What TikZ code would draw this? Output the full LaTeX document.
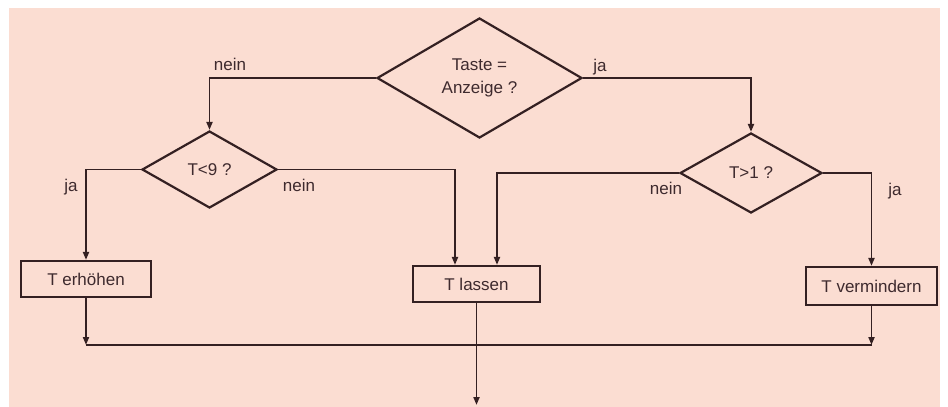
\documentclass[tikz,border=0pt]{standalone}
\usepackage{fontspec}
\setmainfont{Liberation Sans}
\usetikzlibrary{shapes.geometric,arrows.meta,calc}
\definecolor{bgpink}{RGB}{251,221,210}
\definecolor{ink}{RGB}{52,32,34}
\definecolor{txt}{RGB}{62,42,46}
\begin{document}
\begin{tikzpicture}[x=1pt,y=-1pt,
  every node/.style={font=\fontsize{17}{23}\selectfont, text=txt},
  dia/.style={diamond, draw=ink, line width=2.2pt, inner sep=0pt, align=center},
  box/.style={rectangle, draw=ink, line width=2.2pt, inner sep=0pt, align=center},
  conn/.style={draw=ink, line width=1.9pt},
  arr/.style={conn, -{Triangle[width=6pt,length=8pt]}},
  lbl/.style={inner sep=0pt}
]
\useasboundingbox (0,0) rectangle (948,407);
\fill[white] (0,0) rectangle (948,407);
\fill[bgpink] (9,8) rectangle (940,407);

% decisions
\node[dia, minimum width=205pt, minimum height=120pt] (d0) at (479.5,78) {Taste =\\Anzeige ?};
\node[dia, minimum width=135pt, minimum height=77pt] (d1) at (209.5,169.5) {T<9 ?};
\node[dia, minimum width=142pt, minimum height=80pt] (d2) at (751,173) {T>1 ?};

% actions
\node[box, minimum width=130pt, minimum height=36pt] (b1) at (86,279) {T erhöhen};
\node[box, minimum width=127pt, minimum height=36pt] (b2) at (476.5,284) {T lassen};
\node[box, minimum width=131pt, minimum height=38pt] (b3) at (871.5,286) {T vermindern};

\coordinate (j) at (476.5,345);
\coordinate (out) at (476.5,405);

% connectors
\draw[arr] (d0.west) -| (d1.north);
\draw[arr] (d0.east) -| (d2.north);
\draw[arr] (d1.west) -| (b1.north);
\draw[arr] (d1.east) -| ([xshift=-21.5pt]b2.north);
\draw[arr] (d2.west) -| ([xshift=20.5pt]b2.north);
\draw[arr] (d2.east) -| (b3.north);
\draw[arr] (b1.south) -- (b1.south |- j);
\draw[arr] (b3.south) -- (b3.south |- j);
\draw[conn] (b1.south |- j) -- (b3.south |- j);
\draw[arr] (b2.south) -- (out);

% labels
\node[lbl] (l1) at (230,64) {nein};
\node[lbl] (l2) at (600,67) {ja};
\node[lbl] (l3) at (71,187) {ja};
\node[lbl] (l4) at (299,185) {nein};
\node[lbl] (l5) at (666,188) {nein};
\node[lbl] (l6) at (895,191) {ja};
\end{tikzpicture}
\end{document}
